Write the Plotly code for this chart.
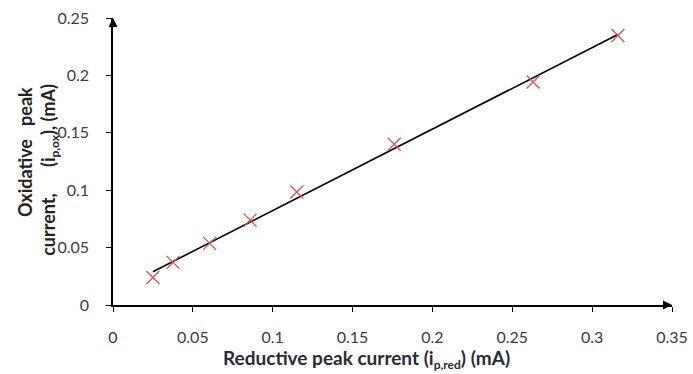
import numpy as np
import plotly.graph_objects as go

# Data
ip_red = [0.025, 0.0376, 0.0605, 0.0859, 0.1151, 0.1761, 0.263, 0.3161]
ip_ox = [0.024, 0.0371, 0.0537, 0.0739, 0.0985, 0.140, 0.1942, 0.2348]
x_ticks = [0, 0.05, 0.1, 0.15, 0.2, 0.25, 0.3, 0.35]
x_tick_labels = ["0", "0.05", "0.1", "0.15", "0.2", "0.25", "0.3", "0.35"]
y_ticks = [0, 0.05, 0.1, 0.15, 0.2, 0.25]
y_tick_labels = ["0", "0.05", "0.1", "0.15", "0.2", "0.25"]

slope, intercept = np.polyfit(ip_red, ip_ox, 1)
fit_x = [min(ip_red), max(ip_red)]
fit_y = [slope * v + intercept for v in fit_x]

FONT = "Lato, sans-serif"
TXT = "#3a3a4a"

fig = go.Figure()
fig.add_trace(go.Scatter(x=fit_x, y=fit_y, mode="lines",
                         line=dict(color="black", width=1.6), showlegend=False))
fig.add_trace(go.Scatter(x=ip_red, y=ip_ox, mode="markers",
                         marker=dict(symbol="x-thin", size=13,
                                     line=dict(color="rgb(222,80,80)", width=1.3)),
                         showlegend=False))
# axis arrowheads
fig.add_trace(go.Scatter(x=[x_ticks[-1]], y=[0], mode="markers", cliponaxis=False,
                         marker=dict(symbol="arrow-right", size=9, color="black"),
                         showlegend=False, hoverinfo="skip"))
fig.add_trace(go.Scatter(x=[0], y=[y_ticks[-1]], mode="markers", cliponaxis=False,
                         marker=dict(symbol="arrow-up", size=9, color="black"),
                         showlegend=False, hoverinfo="skip"))

fig.update_layout(
    width=693, height=374,
    margin=dict(l=112.5, r=20.5, t=17.5, b=69),
    paper_bgcolor="white", plot_bgcolor="white",
    font=dict(family=FONT, size=16, color=TXT),
    xaxis=dict(range=[0, 0.35], tickvals=x_ticks, ticktext=x_tick_labels,
               showgrid=False, zeroline=False, showline=True, linecolor="black",
               linewidth=1.5, ticks="outside", ticklen=5, tickcolor="black",
               tickwidth=1, tickfont=dict(size=16), ticklabelstandoff=12,
               automargin=False),
    yaxis=dict(range=[0, 0.25], tickvals=y_ticks, ticktext=y_tick_labels,
               showgrid=False, zeroline=False, showline=True, linecolor="black",
               linewidth=1.5, ticks="outside", ticklen=5, tickcolor="black",
               tickwidth=1, tickfont=dict(size=16), ticklabelstandoff=14,
               automargin=False),
)

SUB = "<span style='font-size:12px'>{}</span>"

# axis titles
fig.add_annotation(
    text="<b>Reductive peak current (i<sub>" + SUB.format("p,red") + "</sub>) (mA)</b>",
    xref="paper", yref="paper", x=(366 - 112.5) / 560, y=-(359 - 305) / 287.5,
    showarrow=False, font=dict(family=FONT, size=19, color="#2a2a35"),
    xanchor="center", yanchor="middle")
fig.add_annotation(
    text="<b>Oxidative&nbsp;&nbsp;&nbsp;peak</b>",
    xref="paper", yref="paper", x=-(112.5 - 25) / 560, y=(305 - 152) / 287.5,
    showarrow=False, textangle=-90, font=dict(family=FONT, size=18, color="#222"),
    xanchor="center", yanchor="middle")
fig.add_annotation(
    text="<b>current,&nbsp;&nbsp;&nbsp;&nbsp;&nbsp;&nbsp;(i<sub>" + SUB.format("p,ox")
         + "</sub>),&nbsp;(mA)</b>",
    xref="paper", yref="paper", x=-(112.5 - 49) / 560, y=(305 - 170) / 287.5,
    showarrow=False, textangle=-90, font=dict(family=FONT, size=18, color="#222"),
    xanchor="center", yanchor="middle")

fig.write_html("out.html")
